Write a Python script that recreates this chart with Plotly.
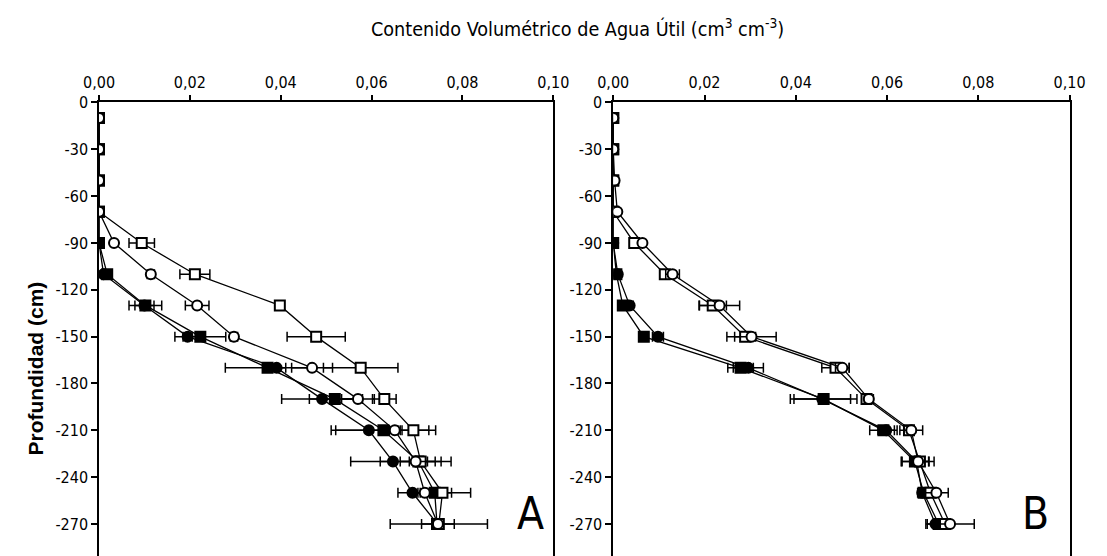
import plotly.graph_objects as go

depth = [-10, -30, -50, -70, -90, -110, -130, -150, -170, -190, -210, -230, -250, -270]

# Panel A
A_open_sq = [0, 0, 0, 0, 0.0094, 0.0211, 0.0398, 0.0478, 0.0576, 0.0628, 0.0692, 0.0708, 0.0756, 0.0748]
A_open_sq_err = [0, 0, 0, 0, 0.0028, 0.0033, 0.0005, 0.0064, 0.0082, 0.0026, 0.0034, 0.0045, 0.0062, 0.0107]
A_open_ci = [0, 0, 0, 0, 0.0033, 0.0114, 0.0216, 0.0297, 0.0469, 0.0570, 0.0651, 0.0697, 0.0717, 0.0746]
A_open_ci_err = [0, 0, 0, 0, 0.0005, 0.0008, 0.0026, 0.0008, 0.0045, 0.0036, 0.0012, 0.0078, 0.0010, 0.0036]
A_fill_sq = [0, 0, 0, 0, 0, 0.0018, 0.0102, 0.0223, 0.0371, 0.0519, 0.0626, 0.0703, 0.0739, 0.0744]
A_fill_sq_err = [0, 0, 0, 0, 0, 0.0005, 0.0036, 0.0056, 0.0093, 0.0056, 0.0115, 0.0020, 0.0037, 0.0008]
A_fill_ci = [0, 0, 0, 0, 0, 0.0010, 0.0100, 0.0195, 0.0391, 0.0491, 0.0594, 0.0647, 0.0690, 0.0745]
A_fill_ci_err = [0, 0, 0, 0, 0, 0.0005, 0.0021, 0.0010, 0.0020, 0.0089, 0.0073, 0.0093, 0.0032, 0.0012]

# Panel B
B_open_sq = [0, 0, 0, 0, 0.0046, 0.0113, 0.0218, 0.0289, 0.0487, 0.0555, 0.0648, 0.0672, 0.0695, 0.0727]
B_open_sq_err = [0, 0, 0, 0, 0.0005, 0.0008, 0.0030, 0.0023, 0.0030, 0.0010, 0.0010, 0.0020, 0.0012, 0.0010]
B_open_ci = [0, 0, 0.0003, 0.0009, 0.0064, 0.0130, 0.0233, 0.0303, 0.0502, 0.0560, 0.0653, 0.0668, 0.0708, 0.0738]
B_open_ci_err = [0, 0, 0, 0, 0.0005, 0.0015, 0.0044, 0.0054, 0.0015, 0.0010, 0.0025, 0.0035, 0.0026, 0.0053]
B_fill_sq = [0, 0, 0, 0, 0, 0.0007, 0.0021, 0.0067, 0.0279, 0.0461, 0.0592, 0.0661, 0.0680, 0.0713]
B_fill_sq_err = [0, 0, 0, 0, 0, 0.0003, 0.0008, 0.0010, 0.0028, 0.0073, 0.0030, 0.0030, 0.0010, 0.0010]
B_fill_ci = [0, 0, 0, 0, 0, 0.0010, 0.0036, 0.0098, 0.0296, 0.0458, 0.0598, 0.0665, 0.0677, 0.0706]
B_fill_ci_err = [0, 0, 0, 0, 0, 0.0003, 0.0008, 0.0012, 0.0033, 0.0062, 0.0018, 0.0015, 0.0010, 0.0018]

x_ticks = [0, 0.02, 0.04, 0.06, 0.08, 0.10]
x_labels = ["0,00", "0,02", "0,04", "0,06", "0,08", "0,10"]
y_ticks = [0, -30, -60, -90, -120, -150, -180, -210, -240, -270]
y_labels = ["0", "-30", "-60", "-90", "-120", "-150", "-180", "-210", "-240", "-270"]

NARROW = "DejaVu Sans Condensed, Liberation Sans, sans-serif"
FONT = "Liberation Sans, Arial, sans-serif"

fig = go.Figure()

def add_series(x, err, symbol, fill, xa, ya):
    fig.add_trace(go.Scatter(
        x=x, y=depth, xaxis=xa, yaxis=ya, mode="lines+markers",
        line=dict(color="black", width=1.3),
        marker=dict(symbol=symbol, size=10, color=fill,
                    line=dict(color="black", width=2)),
        error_x=dict(type="data", array=err, visible=True,
                     color="black", thickness=1.5, width=5),
        showlegend=False,
    ))

for xa, ya, data in [
    ("x", "y", [(A_fill_ci, A_fill_ci_err, "circle", "black"),
                (A_fill_sq, A_fill_sq_err, "square", "black"),
                (A_open_sq, A_open_sq_err, "square", "white"),
                (A_open_ci, A_open_ci_err, "circle", "white")]),
    ("x2", "y2", [(B_fill_ci, B_fill_ci_err, "circle", "black"),
                  (B_fill_sq, B_fill_sq_err, "square", "black"),
                  (B_open_sq, B_open_sq_err, "square", "white"),
                  (B_open_ci, B_open_ci_err, "circle", "white")]),
]:
    for x, e, s, f in data:
        add_series(x, e, s, f, xa, ya)

W, H = 1107, 556
ytop = 1 - 95 / H
xcommon = dict(range=[0, 0.10], tickvals=x_ticks, ticktext=x_labels, side="top",
               showline=True, linecolor="black", linewidth=1.5, mirror=False,
               ticks="outside", ticklen=6, tickwidth=1.5, tickcolor="black",
               showgrid=False, zeroline=False,
               tickfont=dict(family=NARROW, size=16, color="black"))
ycommon = dict(range=[-290.5, 0], tickvals=y_ticks, ticktext=y_labels,
               showline=True, linecolor="black", linewidth=1.5, mirror=True,
               ticks="outside", ticklen=6, tickwidth=1.5, tickcolor="black",
               showgrid=False, zeroline=False,
               tickfont=dict(family=NARROW, size=16, color="black"),
               domain=[0, ytop])

fig.update_layout(
    width=W, height=H, margin=dict(l=0, r=0, t=0, b=0),
    paper_bgcolor="white", plot_bgcolor="white",
    xaxis=dict(xcommon, domain=[85.5 / W, 553.3 / W], anchor="y"),
    yaxis=dict(ycommon, anchor="x"),
    xaxis2=dict(xcommon, domain=[615 / W, 1085 / W], anchor="y2"),
    yaxis2=dict(ycommon, anchor="x2"),
    annotations=[
        dict(text="Contenido Volumétrico de Agua Útil (cm<sup>3</sup> cm<sup>-3</sup>)",
             x=578 / W, y=1 - 19 / H, xref="paper", yref="paper",
             showarrow=False, font=dict(family=NARROW, size=19.6, color="black"),
             xanchor="center", yanchor="middle"),
        dict(text="<b>Profundidad (cm)</b>", x=20 / W, y=1 - 365 / H,
             xref="paper", yref="paper", showarrow=False, textangle=-90,
             font=dict(family=FONT, size=21, color="black"),
             xanchor="center", yanchor="middle"),
        dict(text="A", x=530 / W, y=1 - 513 / H, xref="paper", yref="paper",
             showarrow=False, font=dict(family=NARROW, size=44, color="black"),
             xanchor="center", yanchor="middle"),
        dict(text="B", x=1050 / W, y=1 - 513 / H, xref="paper", yref="paper",
             showarrow=False, font=dict(family=NARROW, size=44, color="black"),
             xanchor="center", yanchor="middle"),
    ],
)

fig.write_html("out.html")
